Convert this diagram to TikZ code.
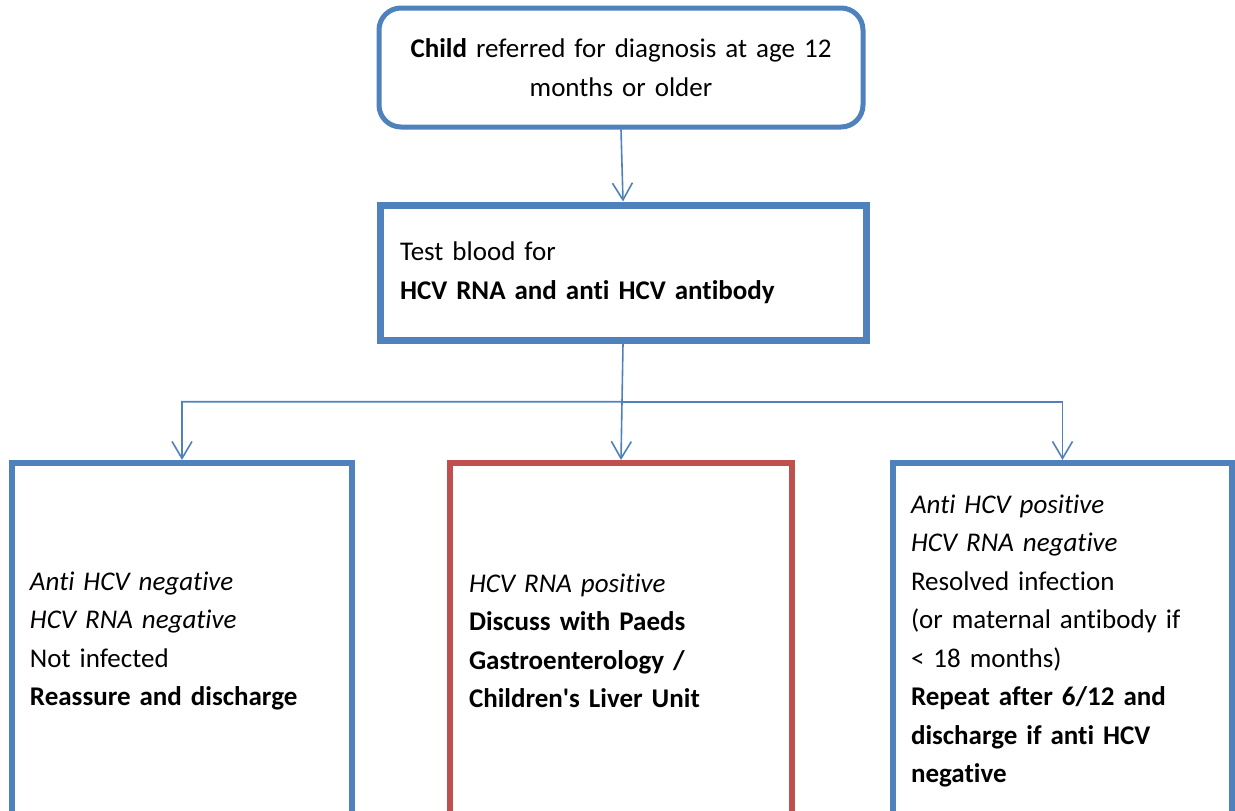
\documentclass[tikz,border=0pt]{standalone}
\usepackage{fontspec}
\setmainfont{Carlito}[Ligatures=NoCommon]
\usetikzlibrary{arrows.meta,positioning,calc}
\definecolor{boxblue}{HTML}{4F81BD}
\definecolor{boxred}{HTML}{C0504D}
\begin{document}
\begin{tikzpicture}[x=1pt, y=-1pt, >={Straight Barb[length=17pt,width=20pt]},
  every node/.style={font=\fontsize{27}{38.5}\selectfont},
  box/.style={draw=boxblue, line width=6pt, inner xsep=18pt, align=left},
  link/.style={->, draw=boxblue, line width=1.6pt}]
\clip (0,0) rectangle (1235,811);
\node[box, line width=5pt, rounded corners=22pt, minimum width=484pt, minimum height=119pt, text width=440pt, align=center] (child) at (621,67.5) {\textbf{Child} referred for diagnosis at age 12\\months or older};
\node[box, line width=7pt, inner xsep=20pt, minimum width=486pt, minimum height=135pt, text width=446pt] (test) at (623,272.5) {Test blood for\\\textbf{HCV RNA and anti HCV antibody}};
\node[box, minimum width=340pt, minimum height=356pt, text width=304pt] (neg) at (182,641) {\textit{Anti HCV negative}\\\textit{HCV RNA negative}\\Not infected\\\textbf{Reassure and discharge}};
\node[box, draw=boxred, inner xsep=19pt, minimum width=342pt, minimum height=356pt, text width=304pt] (pos) at (621,641) {\textit{HCV RNA positive}\\\textbf{Discuss with Paeds}\\\textbf{Gastroenterology /}\\\textbf{Children\textquotesingle s Liver Unit}};
\node[box, minimum width=339pt, minimum height=356pt, text width=303pt] (res) at (1062.5,641) {\textit{Anti HCV positive}\\\textit{HCV RNA negative}\\Resolved infection\\(or maternal antibody if\\< 18 months)\\\textbf{Repeat after 6/12 and}\\\textbf{discharge if anti HCV}\\\textbf{negative}};
% connectors
\draw[link] (child.south) -- (test.north);
\coordinate (split) at ($(test.south)!0.5!(pos.north)$);
\draw[link] (test.south) -- (split) -| (neg.north);
\draw[link] (split) -| (res.north);
\draw[link] (split) -- (pos.north);
\end{tikzpicture}
\end{document}
